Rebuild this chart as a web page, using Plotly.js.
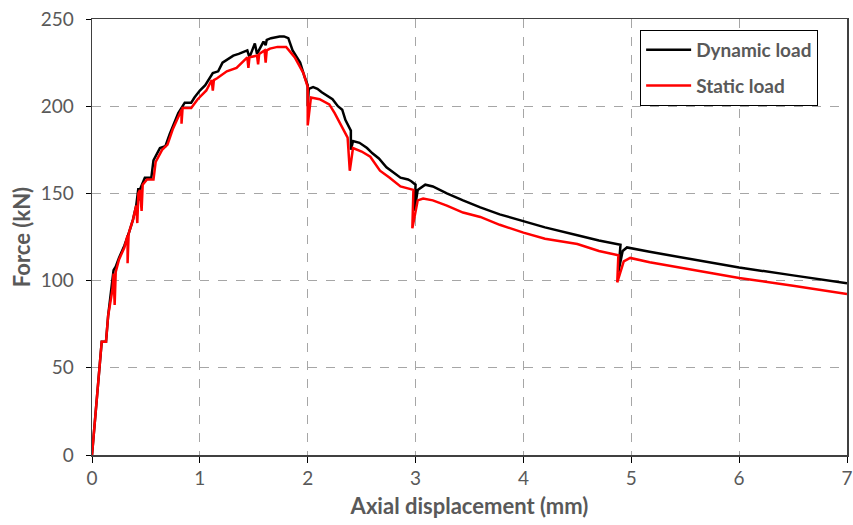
<!DOCTYPE html>
<html>
<head>
<meta charset="utf-8">
<script src="https://cdn.plot.ly/plotly-3.0.1.min.js"></script>
<style>html,body{margin:0;padding:0;background:#fff;}#chart{width:853px;height:525px;}</style>
</head>
<body>
<div id="chart"></div>
<script>
const dynamicX = [0,0.09,0.13,0.15,0.2,0.22,0.25,0.3,0.34,0.38,0.41,0.43,0.44,0.45,0.49,0.55,0.57,0.63,0.68,0.72,0.8,0.86,0.92,0.95,1.0,1.05,1.12,1.17,1.21,1.31,1.36,1.44,1.46,1.51,1.53,1.59,1.61,1.62,1.66,1.74,1.78,1.82,1.86,1.93,1.97,2.0,2.0,2.01,2.05,2.09,2.13,2.18,2.23,2.28,2.32,2.35,2.38,2.40,2.40,2.42,2.48,2.55,2.6,2.66,2.73,2.8,2.86,2.93,2.96,3.0,2.99,3.02,3.04,3.09,3.16,3.29,3.44,3.6,3.78,4.0,4.2,4.5,4.7,4.9,4.88,4.92,4.96,5.17,5.5,6.0,6.5,7.0];
const dynamicY = [0,65,65,80,106,108,113,120,127,135,143,153,146,153,159,159,169,176,177,184,196,202,202,205,209,212,219,220,225,229,230,232,228,236,230,237,235,238,239,240,240,239,232,225,217,212,200,210,211,210,208,206,204,200,198,192,188,186,175,180,179,176,173,170,165,162,159,158,157,155,140,152,153,155,154,150,146,142,138,134,130.5,126,123,120.5,105,117,119,116.5,113,107.5,103,98.5];

const staticX = [0,0.09,0.13,0.15,0.19,0.2,0.21,0.22,0.25,0.3,0.33,0.33,0.34,0.38,0.41,0.42,0.43,0.445,0.46,0.47,0.51,0.57,0.59,0.65,0.7,0.75,0.83,0.83,0.84,0.86,0.92,0.98,1.06,1.11,1.12,1.13,1.16,1.25,1.34,1.44,1.45,1.46,1.53,1.54,1.55,1.6,1.61,1.62,1.65,1.72,1.8,1.84,1.88,1.96,2.0,2.0,2.03,2.11,2.2,2.25,2.33,2.37,2.39,2.42,2.5,2.58,2.67,2.76,2.86,2.98,2.97,3.02,3.07,3.16,3.29,3.44,3.6,3.78,4.0,4.2,4.5,4.7,4.88,4.87,4.93,4.99,5.17,5.5,6.0,6.5,7.0];
const staticY = [0,65,65,80,95,104,86,105,112,119,126,110,127,135,143,133,150,152,140,155,158,158,168,175,178,187,198,190,199,199,199,204,209,215,209,215,216,220,222,228,222,228,229,224,230,232,225,232,233,234,234,231,228,219,211,189,205,204,201,196,187,182,163,176,174,171,163,159,154,152,130,146,147,146,143,139,136.5,132,127.5,124,121,117,114.5,99,111,113,110.5,107,101.5,97,92.3];

const xTicks = [0,1,2,3,4,5,6,7];
const yTicks = [0,50,100,150,200,250];

const FONT = 'Lato, "Open Sans", sans-serif';
const GRAY = '#595959';

const traces = [
  {x: dynamicX, y: dynamicY, mode: 'lines', name: 'Dynamic load', legendgroup: 'd', line: {color: '#000000', width: 2.5}},
  {x: staticX, y: staticY, mode: 'lines', name: 'Static load', legendgroup: 's', line: {color: '#ff0000', width: 2.5}}
];

const layout = {
  width: 853, height: 525,
  margin: {l: 92, r: 6, t: 19, b: 70},
  paper_bgcolor: '#ffffff', plot_bgcolor: '#ffffff',
  font: {family: FONT, color: GRAY, size: 19},
  xaxis: {
    range: [0, 7], tickvals: xTicks, ticktext: xTicks.map(String),
    showgrid: true, gridcolor: '#a6a6a6', griddash: 'dash', gridwidth: 1,
    showline: true, linecolor: '#404040', linewidth: 1.5, mirror: true,
    ticks: 'outside', ticklen: 6, tickcolor: '#000000',
    zeroline: false,
    tickfont: {family: FONT, color: GRAY, size: 19},
    title: {text: '<b>Axial displacement (mm)</b>', font: {family: FONT, color: GRAY, size: 22}, standoff: 10}
  },
  yaxis: {
    range: [0, 250], tickvals: yTicks, ticktext: yTicks.map(String),
    showgrid: true, gridcolor: '#a6a6a6', griddash: 'dash', gridwidth: 1,
    showline: true, linecolor: '#404040', linewidth: 1.5, mirror: true,
    ticks: 'outside', ticklen: 5, tickcolor: '#000000',
    ticklabelstandoff: 8,
    zeroline: false,
    tickfont: {family: FONT, color: GRAY, size: 19},
    title: {text: '<b>Force (kN)</b>', font: {family: FONT, color: GRAY, size: 22}, standoff: 4}
  },
  legend: {
    x: 0.726, y: 0.975, xanchor: 'left', yanchor: 'top',
    bgcolor: '#ffffff', bordercolor: '#000000', borderwidth: 1,
    font: {family: FONT, color: GRAY, size: 19, weight: 'bold'},
    itemwidth: 45, tracegroupgap: 8
  },
  showlegend: true
};

Plotly.newPlot('chart', traces, layout, {displayModeBar: false, staticPlot: true});
</script>
</body>
</html>
